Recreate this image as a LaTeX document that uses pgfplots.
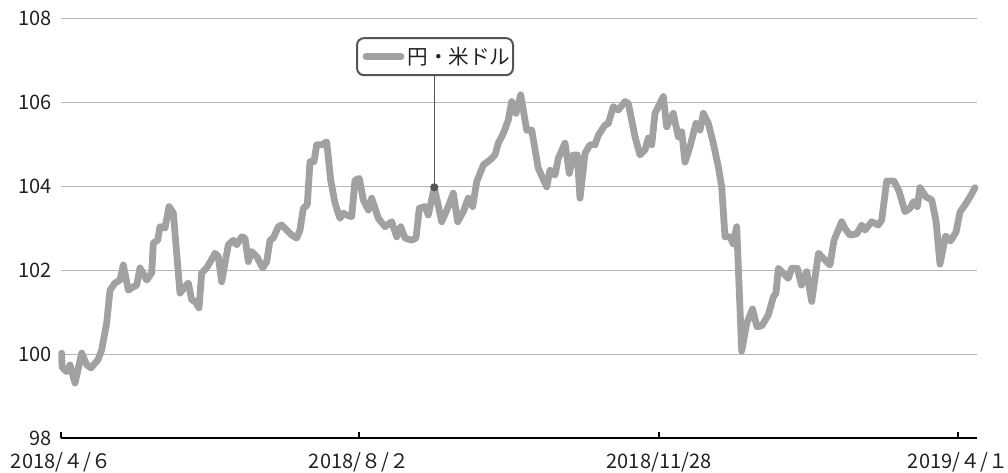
\documentclass[border=0pt]{standalone}
\usepackage{fontspec}
\setmainfont{Noto Sans CJK JP}
\usepackage{pgfplots}
\pgfplotsset{compat=1.18}
\definecolor{linegray}{RGB}{160,162,161}
\definecolor{gridgray}{RGB}{182,182,182}
\definecolor{boxgray}{RGB}{85,85,85}
\definecolor{txt}{RGB}{34,34,34}
\begin{document}
\begin{tikzpicture}
\useasboundingbox (0,0) rectangle (504pt,236pt);
\begin{axis}[
  at={(30.5pt,17pt)}, anchor=south west,
  scale only axis, width=458pt, height=210pt,
  xmin=61, xmax=977, ymin=98, ymax=108,
  clip=false,
  axis x line*=bottom, axis y line*=left,
  y axis line style={draw=none},
  x axis line style={black, line width=1.2pt, -},
  xtick={61,359,659,958},
  xticklabels={2018/４/６,2018/８/２,2018/11/28,2019/４/１},
  xtick style={black, line width=1pt},
  tick align=inside,
  major tick length=3pt,
  ytick={98,100,...,108},
  ytick style={draw=none},
  ymajorgrids, grid style={gridgray, line width=0.5pt},
  /pgf/number format/assume math mode=true,
  tick label style={font=\fontsize{10}{12}\selectfont, text=txt},
  yticklabel style={xshift=-1pt},
  xticklabel style={yshift=-4pt},
]
\addplot[linegray, line width=3.4pt, line join=round, line cap=round] coordinates {
(61.7,100.02) (62,99.69) (66.7,99.58) (70,99.74) (75,99.31) (81.7,100.02) (86.7,99.74)
(91,99.67) (98,99.86) (101.7,100.10) (106.7,100.74) (110,101.52) (115,101.69) (120,101.76)
(123.3,102.12) (128.3,101.52) (133.3,101.60) (136.7,101.64) (140,102.05) (146.7,101.76)
(151.7,101.93) (153.3,102.64) (157.7,102.71) (160,103.03) (165,103.0) (169,103.51)
(173.3,103.36) (180,101.45) (185,101.60) (188.3,101.69) (191.7,101.29) (195,101.25)
(199,101.10) (201.7,101.93) (206.7,102.05) (213.3,102.32) (215,102.40) (218.3,102.32)
(221.7,101.72) (228.3,102.60) (233.3,102.71) (236.7,102.60) (241.7,102.79) (245,102.76)
(248.3,102.20) (251.7,102.44) (256.7,102.32) (262.7,102.05) (266.7,102.20) (270,102.71)
(273.3,102.76) (278.3,103.03) (281.7,103.07) (286.7,102.95) (291.7,102.83) (296.7,102.76)
(300,102.95) (303.3,103.47) (307.3,103.55) (310,104.58) (314,104.58) (316.7,104.98)
(321.7,104.98) (326.7,105.05) (330.7,104.14) (335,103.59) (340,103.23) (343.3,103.35)
(346.7,103.31) (351.7,103.27) (355,104.14) (359.3,104.18) (363.3,103.67) (368.3,103.43)
(371.7,103.71) (378.3,103.23) (385,103.03) (391.7,103.15) (396.7,102.79) (400.7,103.03)
(405,102.76) (411.7,102.71) (416,102.76) (419.3,103.47) (425,103.51) (428.3,103.31)
(434.3,103.97) (441.7,103.15) (448.3,103.51) (453.3,103.83) (457.7,103.15) (463.3,103.39)
(468.3,103.71) (472.7,103.51) (476.7,104.10) (483.3,104.50) (490,104.62) (495,104.74)
(498.3,105.02) (503.3,105.25) (508.3,105.57) (511.7,106.01) (516,105.73) (520.7,106.17)
(526.7,105.33) (531.7,105.33) (538.3,104.42) (546.7,103.98) (550,104.38) (555,104.26)
(558.3,104.66) (565,105.02) (569.3,104.30) (573.3,104.74) (577.3,104.74) (580,103.71)
(585,104.78) (590,104.98) (595,104.98) (598.3,105.21) (605,105.45) (608.3,105.49)
(613.3,105.89) (618.3,105.81) (625,106.01) (628.3,105.97) (635,105.17) (640,104.74)
(645,104.86) (648.3,105.14) (651.7,104.98) (655,105.73) (663.3,106.13) (666.7,105.41)
(673.3,105.73) (678.3,105.17) (681.7,105.29) (685,104.57) (690,104.94) (696,105.49)
(700,105.33) (703.3,105.73) (708.3,105.49) (713.3,105.02) (718.3,104.46) (721.7,103.98)
(725,102.79) (730,102.79) (733.3,102.62) (736.7,103.03) (741.7,100.07) (746.7,100.73)
(752.5,101.07) (757,100.65) (761.7,100.67) (768.3,100.93) (773.3,101.36) (776,101.45)
(778.3,102.04) (785,101.88) (788.3,101.80) (791.7,102.04) (797.3,102.04) (801.5,101.64)
(806.7,101.96) (811.7,101.25) (818.5,102.40) (823.3,102.28) (830,102.12) (834,102.71)
(841.7,103.15) (845,102.99) (850,102.83) (856.7,102.86) (861.7,103.07) (865,102.95)
(871.7,103.15) (878.3,103.07) (881.7,103.19) (886.7,104.12) (894,104.12) (899,103.88)
(905,103.39) (910,103.47) (913.7,103.63) (917.3,103.51) (920,103.96) (926,103.74)
(931.7,103.67) (936,103.17) (940,102.14) (945.5,102.81) (950.5,102.69) (956,102.90)
(960,103.38) (965,103.55) (970,103.74) (975,103.96)
};
\draw[boxgray, line width=0.75pt] (axis cs:434.3,103.97) -- (axis cs:434.3,106.64);
\addplot[only marks, mark=*, mark size=1.8pt, boxgray] coordinates {(434.3,103.97)};
\node[draw=boxgray, line width=1pt, rounded corners=3.5pt, minimum width=78pt, minimum height=18.5pt, fill=white, inner sep=0pt] at (axis cs:435,107.08) {};
\draw[linegray, line width=3.4pt, line cap=round] (axis cs:366,107.08) -- (axis cs:401,107.08);
\node[anchor=west, inner sep=0pt, text=txt, font=\fontsize{10.3}{12}\selectfont] at (axis cs:407,107.08) {円・米ドル};
\end{axis}
\end{tikzpicture}
\end{document}
